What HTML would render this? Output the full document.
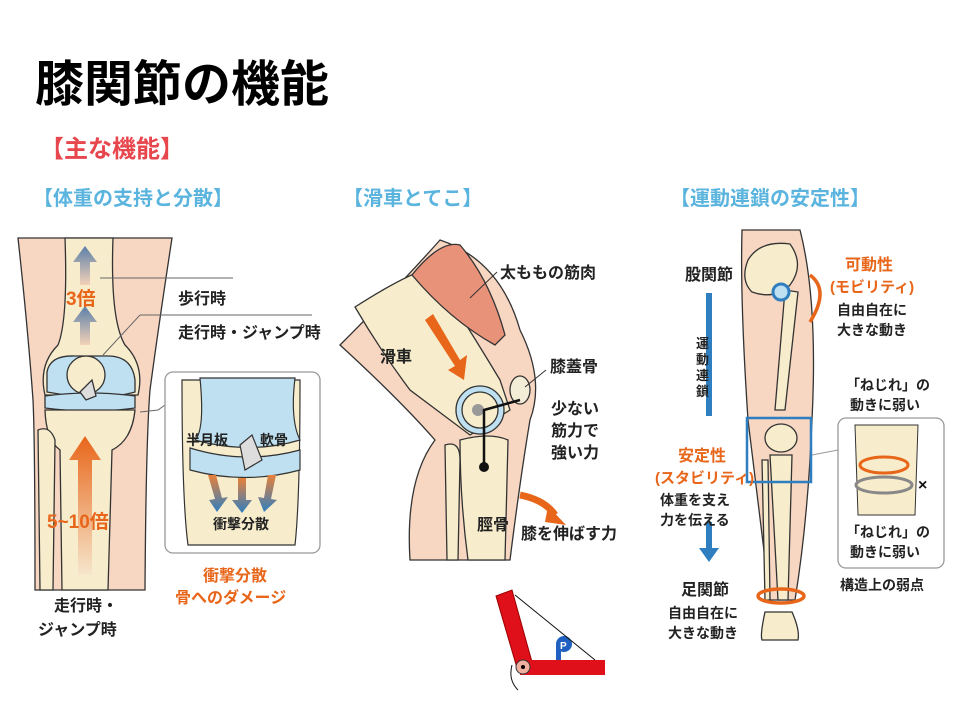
<!DOCTYPE html>
<html><head><meta charset="utf-8"><style>
body{margin:0;background:#fff;}
svg{display:block;font-family:"Liberation Sans","Noto Sans CJK JP",sans-serif;font-weight:bold;}
</style></head><body>
<svg width="960" height="720" viewBox="0 0 960 720" xmlns="http://www.w3.org/2000/svg">
<defs>
<linearGradient id="gb" x1="0" y1="0" x2="0" y2="1"><stop offset="0" stop-color="#5a7fa8"/><stop offset="1" stop-color="#f3d2b8"/></linearGradient>
<linearGradient id="go" x1="0" y1="0" x2="0" y2="1"><stop offset="0" stop-color="#e8661a"/><stop offset="1" stop-color="#f6e6cc"/></linearGradient>
<linearGradient id="gd" x1="0" y1="0" x2="0" y2="1"><stop offset="0" stop-color="#e8803a"/><stop offset="1" stop-color="#2f7fc0"/></linearGradient>
</defs>
<text x="35" y="101" font-size="49" fill="#000">膝関節の機能</text>
<text x="40" y="157" font-size="24" fill="#e8464d">【主な機能】</text>
<text x="33" y="205" font-size="20" fill="#5ab4de">【体重の支持と分散】</text>
<text x="343" y="205" font-size="20" fill="#5ab4de">【滑車とてこ】</text>
<text x="670" y="205" font-size="20" fill="#5ab4de">【運動連鎖の安定性】</text>

<!-- LEFT PANEL -->
<g stroke="#333" stroke-width="1.3">
<path d="M18 238 L172 238 Q158 330 150 390 Q146 440 145 590 L35 590 Q35 440 33 400 Q28 330 18 238Z" fill="#f7d6c2"/>
<path d="M65 238 L113 238 Q110 320 125 345 Q145 365 138 395 L45 395 Q38 365 58 345 Q68 320 65 238Z" fill="#f7edcc"/>
<path d="M47 372 Q50 355 75 356 L108 356 Q132 356 135 380 L135 392 Q100 402 47 392Z" fill="#bfe0f0"/>
<circle cx="86" cy="375" r="19" fill="#f7edcc"/>
<path d="M45 396 Q90 390 135 396 L135 408 Q90 414 45 408Z" fill="#bfe0f0"/>
<path d="M45 410 L135 410 Q132 440 112 450 L108 590 L62 590 L60 450 Q46 440 45 410Z" fill="#f7edcc"/>
<path d="M38 430 Q50 425 55 440 L53 590 L40 590 Z" fill="#f7edcc"/>
<path d="M80 392 L92 380 L96 396 L86 400Z" fill="#ddd"/>
</g>
<polygon points="85,246 73,262 80,262 80,285 90,285 90,262 97,262" fill="url(#gb)"/>
<polygon points="85,306 73,322 80,322 80,345 90,345 90,322 97,322" fill="url(#gb)"/>
<polygon points="85,436 69,460 78,460 78,575 92,575 92,460 101,460" fill="url(#go)"/>
<text x="66" y="305" font-size="19" fill="#e8661a">3倍</text>
<text x="47" y="528" font-size="19" fill="#e8661a">5~10倍</text>
<g stroke="#666" stroke-width="1" fill="none"><line x1="100" y1="278" x2="233" y2="278"/><line x1="103" y1="355" x2="140" y2="315"/><line x1="140" y1="315" x2="312" y2="315"/><path d="M140 412 L158 410 L165 405"/></g>
<text x="178" y="304" font-size="16" fill="#222">歩行時</text>
<text x="178" y="338" font-size="16" fill="#222">走行時・ジャンプ時</text>
<rect x="165" y="372" width="155" height="181" rx="8" fill="#fff" stroke="#999" stroke-width="1.3"/>
<g stroke="#333" stroke-width="1.2">
<path d="M182 380 L300 380 Q300 500 295 545 L188 545 Q182 500 182 380Z" fill="#f7edcc"/>
<path d="M200 378 Q205 430 195 440 Q250 455 300 440 Q290 420 295 378Z" fill="#bfe0f0"/>
<path d="M190 448 Q245 465 300 450 L300 470 Q245 485 190 470Z" fill="#bfe0f0"/>
<path d="M240 445 L252 435 L262 460 L245 470Z" fill="#ddd"/>
</g>
<g fill="url(#gd)"><polygon points="208,475 216,475 222,498 228,497 217,512 209,500 215,499"/><polygon points="238,478 246,478 246,500 252,500 242,513 232,500 238,500"/><polygon points="268,475 276,475 271,499 277,500 264,512 258,497 264,498"/></g>
<text x="186" y="445" font-size="14" fill="#222">半月板</text>
<text x="260" y="445" font-size="14" fill="#222">軟骨</text>
<text x="213" y="529" font-size="14" fill="#222">衝撃分散</text>
<text x="203" y="581" font-size="16" fill="#e8661a">衝撃分散</text>
<text x="175" y="603" font-size="16" fill="#e8661a">骨へのダメージ</text>
<text x="54" y="611" font-size="16" fill="#222">走行時・</text>
<text x="38" y="635" font-size="16" fill="#222">ジャンプ時</text>

<!-- MIDDLE PANEL -->
<g stroke="#333" stroke-width="1.3">
<path d="M340 345 Q400 285 440 240 Q500 260 520 330 Q545 380 530 420 Q520 480 510 560 L410 560 Q405 480 435 440 Q400 400 340 345Z" fill="#f7d6c2"/>
<path d="M355 307 Q405 275 430 268 Q470 330 500 380 L510 410 L470 435 Q450 420 410 390 Q380 350 355 307Z" fill="#f7edcc"/>
<path d="M412 275 Q440 240 460 245 Q490 280 505 335 L495 345 Q450 320 412 275Z" fill="#e8927a"/>
<circle cx="480" cy="410" r="24" fill="#bfe0f0"/>
<circle cx="480" cy="410" r="18" fill="#f7edcc"/>
<path d="M460 440 Q490 432 508 440 L505 560 L468 560 Q460 500 460 440Z" fill="#f7edcc"/>
<path d="M445 445 Q460 440 460 460 L458 560 L447 560Z" fill="#f7edcc"/>
<ellipse cx="520" cy="390" rx="10" ry="14" fill="#f3ecd6"/>
</g>
<circle cx="478" cy="410" r="6" fill="#999"/>
<polyline points="484,470 484,410 520,400" fill="none" stroke="#111" stroke-width="2.5"/>
<circle cx="484" cy="467" r="5" fill="#111"/>
<polygon points="425,320 433,314 460,360 467,355 464,380 448,370 455,366" fill="#e8661a"/>
<path d="M520 495 Q545 500 555 515" stroke="#e8661a" stroke-width="7" fill="none"/>
<polygon points="548,506 566,525 545,522" fill="#e8661a"/>
<g stroke="#333" stroke-width="1" fill="none"><line x1="470" y1="298" x2="497" y2="272"/><line x1="525" y1="387" x2="546" y2="370"/></g>
<text x="500" y="278" font-size="16" fill="#222">太ももの筋肉</text>
<text x="380" y="362" font-size="16" fill="#222">滑車</text>
<text x="550" y="372" font-size="16" fill="#222">膝蓋骨</text>
<text x="551" y="414" font-size="16" fill="#222">少ない</text>
<text x="551" y="436" font-size="16" fill="#222">筋力で</text>
<text x="551" y="458" font-size="16" fill="#222">強い力</text>
<text x="477" y="530" font-size="16" fill="#222">脛骨</text>
<text x="521" y="539" font-size="16" fill="#222">膝を伸ばす力</text>
<!-- lever -->
<polygon points="496,596 512,590 532,662 517,668" fill="#e0101a" stroke="#900"/>
<rect x="520" y="660" width="85" height="15" fill="#e0101a"/>
<circle cx="523" cy="667" r="7" fill="#f0b0a0" stroke="#333"/>
<circle cx="523" cy="667" r="2" fill="#000"/>
<rect x="556" y="644" width="5" height="16" fill="#2060c0"/>
<circle cx="564" cy="644" r="8" fill="#2060c0"/>
<text x="560" y="649" font-size="10" fill="#fff">P</text>
<line x1="515" y1="595" x2="595" y2="660" stroke="#111"/>
<path d="M512 665 Q508 680 518 690" stroke="#111" fill="none"/>

<!-- RIGHT PANEL -->
<g stroke="#333" stroke-width="1.3">
<path d="M742 230 L800 230 Q818 300 812 420 Q808 520 795 600 L770 600 Q760 520 748 420 Q740 300 742 230Z" fill="#f7d6c2"/>
<path d="M748 260 Q760 240 790 244 Q805 265 790 285 Q775 300 752 292 Q740 280 748 260Z" fill="#f7edcc"/>
<path d="M785 290 L798 292 L785 410 L775 410Z" fill="#f7edcc"/>
<ellipse cx="781" cy="438" rx="16" ry="14" fill="#f7edcc"/>
<path d="M770 455 L792 455 L788 600 L778 600Z" fill="#f7edcc"/>
<path d="M762 460 L768 460 L770 600 L765 600Z" fill="#f7edcc"/>
<path d="M765 612 Q760 635 762 640 L798 640 Q800 630 792 612Z" fill="#f7edcc"/>
</g>
<circle cx="781" cy="292" r="8" fill="#bfe0f0" stroke="#2f7fc0" stroke-width="3"/>
<rect x="747" y="418" width="64" height="64" fill="none" stroke="#2f7fc0" stroke-width="2.5"/>
<path d="M810 275 Q830 290 810 322" stroke="#e8661a" stroke-width="3.5" fill="none"/>
<ellipse cx="781" cy="596" rx="23" ry="7" fill="none" stroke="#e8661a" stroke-width="3.5"/>
<rect x="706" y="293" width="6" height="123" fill="#2f7fc0"/>
<rect x="706" y="522" width="6" height="30" fill="#2f7fc0"/>
<polygon points="699,548 719,548 709,562" fill="#2f7fc0"/>
<text x="685" y="280" font-size="16" fill="#222">股関節</text>
<g font-size="13" fill="#222"><text x="696" y="348">運</text><text x="696" y="364">動</text><text x="696" y="380">連</text><text x="696" y="396">鎖</text></g>
<text x="678" y="461" font-size="16" fill="#e8661a">安定性</text>
<text x="655" y="483" font-size="15" fill="#e8661a">(スタビリティ)</text>
<text x="660" y="505" font-size="14" fill="#222">体重を支え</text>
<text x="660" y="525" font-size="14" fill="#222">力を伝える</text>
<text x="681" y="595" font-size="16" fill="#222">足関節</text>
<text x="668" y="618" font-size="14" fill="#222">自由自在に</text>
<text x="668" y="638" font-size="14" fill="#222">大きな動き</text>
<text x="845" y="270" font-size="16" fill="#e8661a">可動性</text>
<text x="830" y="292" font-size="15" fill="#e8661a">(モビリティ)</text>
<text x="837" y="315" font-size="14" fill="#222">自由自在に</text>
<text x="837" y="335" font-size="14" fill="#222">大きな動き</text>
<text x="846" y="390" font-size="14" fill="#222">「ねじれ」の</text>
<text x="850" y="410" font-size="14" fill="#222">動きに弱い</text>
<rect x="838" y="418" width="106" height="150" rx="8" fill="#fff" stroke="#999" stroke-width="1.3"/>
<path d="M812 455 L838 450" stroke="#999" fill="none"/>
<path d="M855 425 L918 425 L915 515 L858 515Z" fill="#f7edcc" stroke="#333"/>
<ellipse cx="884" cy="465" rx="24" ry="8" fill="none" stroke="#e8661a" stroke-width="3"/>
<ellipse cx="884" cy="485" rx="28" ry="8" fill="none" stroke="#888" stroke-width="3"/>
<text x="918" y="490" font-size="16" fill="#111">×</text>
<text x="846" y="537" font-size="14" fill="#222">「ねじれ」の</text>
<text x="850" y="557" font-size="14" fill="#222">動きに弱い</text>
<text x="840" y="590" font-size="14" fill="#222">構造上の弱点</text>
</svg>
</body></html>
